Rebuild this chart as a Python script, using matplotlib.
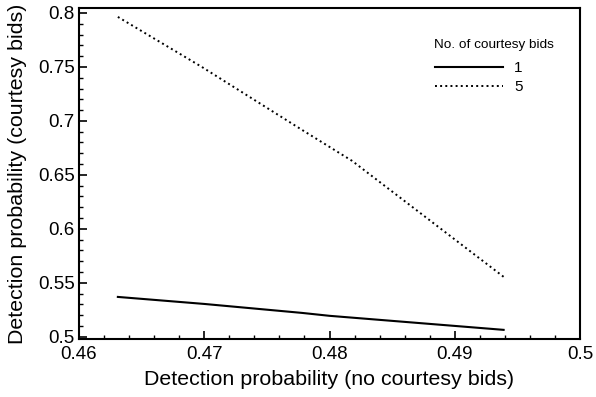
import numpy as np
import matplotlib.pyplot as plt
from matplotlib.ticker import MultipleLocator, FormatStrFormatter

plt.rcParams['font.family'] = ['Liberation Sans', 'DejaVu Sans']

# detection probability without courtesy bids (x) vs with courtesy bids (y)
x_1 = [0.4631, 0.4700, 0.4778, 0.4800, 0.4939]
y_1 = [0.5370, 0.5305, 0.5222, 0.5195, 0.5065]
x_5 = [0.4631, 0.4698, 0.4778, 0.4818, 0.4939]
y_5 = [0.7963, 0.7500, 0.6917, 0.6630, 0.5556]
legend_labels = ['1', '5']

fig = plt.figure(figsize=(5.96, 3.97), dpi=100)
ax = fig.add_axes([0.1326, 0.146, 0.8406, 0.834])

ax.plot(x_1, y_1, '-', color='black', linewidth=1.5, label=legend_labels[0])
ax.plot(x_5, y_5, ':', color='black', linewidth=1.4, label=legend_labels[1])

ax.set_xlim(0.46, 0.50)
ax.set_ylim(0.498, 0.8046)
ax.xaxis.set_major_locator(MultipleLocator(0.01))
ax.xaxis.set_minor_locator(MultipleLocator(0.002))
ax.yaxis.set_major_locator(MultipleLocator(0.05))
ax.yaxis.set_minor_locator(MultipleLocator(0.01))
ax.xaxis.set_major_formatter(FormatStrFormatter('%g'))
ax.yaxis.set_major_formatter(FormatStrFormatter('%g'))
ax.tick_params(which='major', direction='in', length=6, width=1.2, labelsize=13.5)
ax.tick_params(axis='x', which='major', pad=5)
ax.tick_params(axis='y', which='major', pad=3)
ax.tick_params(which='minor', direction='in', length=3, width=1)
for sp in ax.spines.values():
    sp.set_linewidth(1.5)

ax.set_xlabel('Detection probability (no courtesy bids)', fontsize=15.4, labelpad=5)
ax.set_ylabel('Detection probability (courtesy bids)', fontsize=15.4)
ax.yaxis.set_label_coords(-0.104, 0.5)

ax.text(0.7086, 0.888, 'No. of courtesy bids', transform=ax.transAxes,
        fontsize=9.7, ha='left', va='center')
leg = ax.legend(loc='upper left', bbox_to_anchor=(0.695, 0.863),
                frameon=False, fontsize=11, handlelength=4.45,
                handletextpad=0.75, labelspacing=0.33, borderpad=0)

fig.savefig('out.png', dpi=100)
